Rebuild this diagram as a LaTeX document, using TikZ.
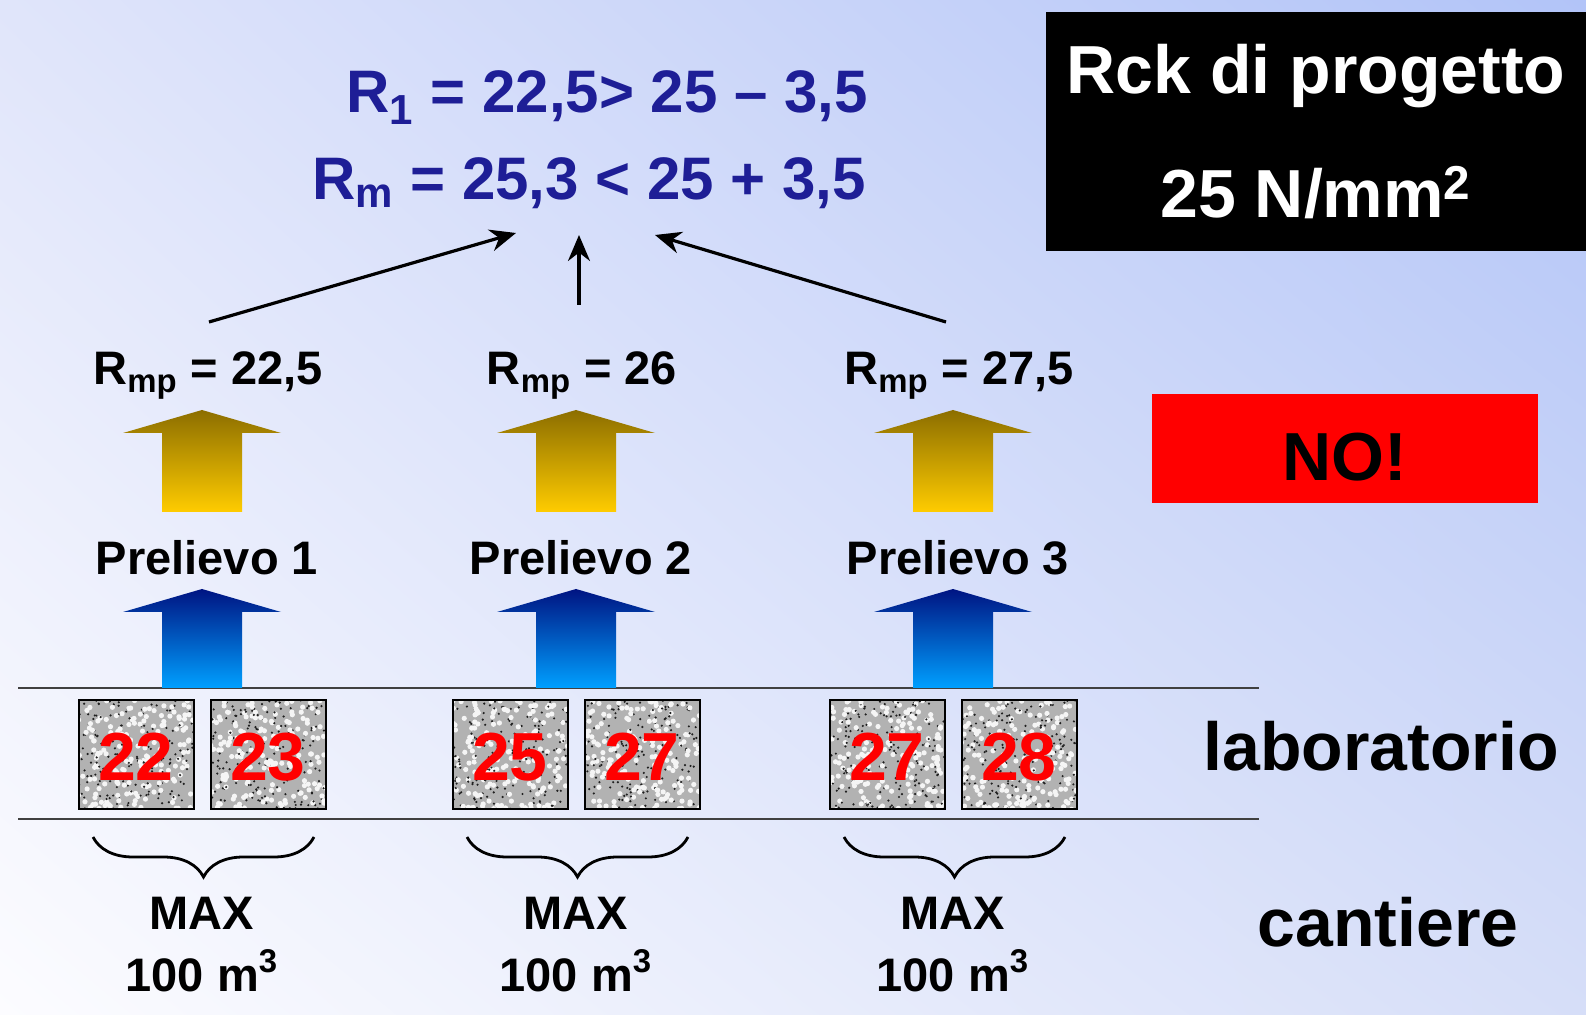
\documentclass[tikz,border=0pt]{standalone}
\usepackage{fontspec}
\setmainfont{Liberation Sans}
\usetikzlibrary{arrows.meta, decorations.pathreplacing, shadings}

\definecolor{formblue}{RGB}{30,30,150}
\definecolor{bgUL}{RGB}{224,229,250}
\definecolor{bgUR}{RGB}{178,196,248}
\definecolor{bgLL}{RGB}{252,252,255}
\definecolor{bgLR}{RGB}{214,222,248}
\definecolor{goldtop}{RGB}{140,110,0}
\definecolor{goldbot}{RGB}{255,204,0}
\definecolor{bluetop}{RGB}{0,20,130}
\definecolor{bluebot}{RGB}{0,160,255}

% block arrow: centre x, apex y, foot y, top colour, bottom colour
\newcommand\blockarrow[5]{%
  \shade[top color=#4, bottom color=#5]
    (#1,#2) -- (#1+79,#2+23) -- (#1+40,#2+23) -- (#1+40,#3)
    -- (#1-40,#3) -- (#1-40,#2+23) -- (#1-79,#2+23) -- cycle;}

\begin{document}
\begin{tikzpicture}[x=0.5pt, y=-0.5pt,
    every node/.style={inner sep=0pt},
    lbl/.style={font=\fontsize{23.5}{28}\selectfont\bfseries, anchor=base},
    big/.style={font=\fontsize{34}{40}\selectfont\bfseries, anchor=base},
    form/.style={font=\fontsize{30}{36}\selectfont\bfseries, text=formblue, anchor=base},
    cube/.style={draw=black, line width=1pt, fill=gray!60,
      path picture={
        \foreach \k in {1,...,170}{
          \fill[white!92!gray] ([shift={(rnd*57.5pt,rnd*54.5pt)}]path picture bounding box.south west) circle (1.3pt);
          \fill[gray!25!black] ([shift={(rnd*57.5pt,rnd*54.5pt)}]path picture bounding box.south west) circle (0.6pt);
        }},
      minimum width=57.5pt, minimum height=54.5pt, text height=26pt,
      font=\fontsize{34}{34}\selectfont\bfseries, text=red},
    link/.style={-{Stealth[length=13pt,width=11pt]}, line width=1.6pt},
    level/.style={draw=black!75, line width=1.2pt},
    grp/.style={decorate, decoration={brace, mirror, amplitude=20pt}, line width=1.4pt}]

  \pgfmathsetseed{7}
  % background
  \shade[upper left=bgUL, upper right=bgUR, lower left=bgLL, lower right=bgLR]
    (0,0) rectangle (1586,1015);
  \useasboundingbox (0,0) rectangle (1586,1015);

  % design strength and verdict
  \node[fill=black, text=white, minimum width=270pt, minimum height=119.5pt,
    align=center, font=\fontsize{34}{40}\selectfont\bfseries]
    (rck) at (1316,131.5) {Rck di progetto\\[22pt]25 N/mm\textsuperscript{2}};
  \node[fill=red, minimum width=193pt, minimum height=54.5pt, text height=32pt,
    font=\fontsize{34}{40}\selectfont\bfseries] (no) at (1345,448.5) {NO!};

  \node[big] (lab) at (1381,771) {laboratorio};
  \node[big] (cant) at (1388,946) {cantiere};

  \draw[level] (18,688) -- (1259,688);
  \draw[level] (18,819) -- (1259,819);

  % acceptance check
  \node[form] (r1) at (607,113) {R\textsubscript{1} = 22,5> 25 -- 3,5};
  \node[form] (rm) at (589,200) {R\textsubscript{m} = 25,3 < 25 + 3,5};

  % the three samplings
  \foreach \c/\i/\a/\b/\v in {202/1/22/23/22{,}5, 576/2/25/27/26, 953/3/27/28/27{,}5}{
    \node[cube] (cube\i-a) at (\c-66,755) {\a};
    \node[cube] (cube\i-b) at (\c+66,755) {\b};
    \blockarrow{\c}{589}{688}{bluetop}{bluebot}
    \node[lbl] (prel\i) at (\c+5,575) {Prelievo \i};
    \blockarrow{\c}{410}{512}{goldtop}{goldbot}
    \node[lbl] (rmp\i) at (\c+6,385) {R\textsubscript{mp} = \v};
    \draw[grp] (\c-109,837) -- (\c+112,837);
    \node[lbl] (max\i) at (\c,929) {MAX};
    \node[lbl] (vol\i) at (\c,991) {100 m\textsuperscript{3}};
  }

  \coordinate (s1) at (209,322);
  \coordinate (s2) at (579,305);
  \coordinate (s3) at (946,322);
  \coordinate (t1) at (516,233);
  \coordinate (t2) at (579,235);
  \coordinate (t3) at (655,235);
  \draw[link] (s1) -- (t1);
  \draw[link] (s2) -- (t2);
  \draw[link] (s3) -- (t3);
\end{tikzpicture}
\end{document}
